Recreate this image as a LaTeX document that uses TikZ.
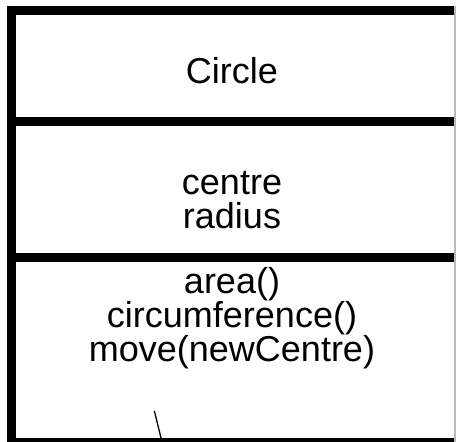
\documentclass[tikz,border=0pt]{standalone}
\usepackage{fontspec}
\setmainfont{Liberation Sans}
\usetikzlibrary{positioning}
\tikzset{x=1pt,y=1pt}
\tikzset{rule/.style={line width=9pt},
         edge/.style={gray!55,line width=1.5pt},
         txt/.style={inner sep=0pt,anchor=base,align=center,
                     font=\fontsize{36}{34}\selectfont}}

\begin{document}
\begin{tikzpicture}
                    \useasboundingbox (0,0) rectangle (456,442);
                    \coordinate (nw) at (7,431.5);
                    \coordinate (ne) at (455,431.5);
                    \coordinate (sw) at (7,-1);
                    \coordinate (se) at (455,-1);
                    \node[txt] (name)    at (232,358)   {Circle};
                    \node[txt] (attrs)   at (232,213)   {centre\\radius};
                    \node[txt] (ops)     at (232,80)    {area()\\circumference()\\move(newCentre)};
                    \coordinate (stub) at (154.3,31.3);
                    \coordinate (foot) at (162,0);
                    \draw[rule] (nw) -- (ne);
                    \draw[rule] (7,320) -- (455,320);
                    \draw[rule] (7,184.5) -- (455,184.5);
                    \draw[rule] (sw) -- (se);
                    \draw[rule] (11.5,436) -- (11.5,-5);
                    \draw[edge] (455,436) -- (455,-5);
                    \draw[line width=1.3pt] (stub) -- (foot);
                    %\draw[rule] (nw) rectangle (se);
\end{tikzpicture}
\end{document}
